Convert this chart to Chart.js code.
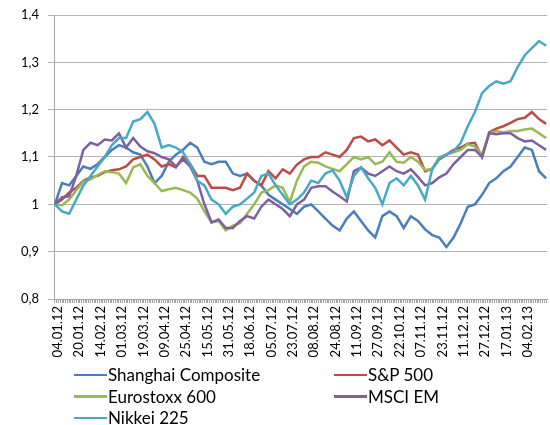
<!DOCTYPE html>
<html>
<head>
<meta charset="utf-8">
<script src="https://cdn.jsdelivr.net/npm/chart.js@4"></script>
<style>
body { margin: 0; background: #fff; font-family: Lato, sans-serif; }
#wrap { position: relative; width: 550px; height: 425px; }
#box { position: absolute; left: 0; top: 0; width: 550px; height: 368px; }
#legend { position: absolute; left: 74px; top: 364px; display: grid; grid-template-columns: 260px 200px; font-size: 17px; line-height: 21.5px; color: #000; }
.item { display: flex; align-items: center; }
.item span { display: inline-block; width: 33px; height: 2.5px; margin-right: 1px; }
</style>
</head>
<body>
<div id="wrap">
  <div id="box"><canvas id="indexChart"></canvas></div>
  <div id="legend"></div>
</div>
<script>
// tick labels, one every 12 trading days
let dates = [
    "04.01.12", "20.01.12", "14.02.12", "01.03.12", "19.03.12", "09.04.12",
    "25.04.12", "15.05.12", "31.05.12", "18.06.12", "05.07.12", "23.07.12",
    "08.08.12", "24.08.12", "11.09.12", "27.09.12", "22.10.12", "07.11.12",
    "23.11.12", "11.12.12", "27.12.12", "17.01.13", "04.02.13"
]
let lastDay = 276
let step = 4   // values every 4th trading day

let names = [`Shanghai Composite`, `S&P 500`, `Eurostoxx 600`, `MSCI EM`, `Nikkei 225`]
let colors = [`#4A7EBB`, `#BE4B48`, `#98B954`, `#7D60A0`, `#46AAC5`]

let shanghai = [
    1.00, 1.045, 1.04, 1.06, 1.08, 1.075, 1.085, 1.10, 1.115, 1.125,
    1.12, 1.11, 1.105, 1.08, 1.045, 1.06, 1.09, 1.105, 1.115, 1.13,
    1.12, 1.09, 1.085, 1.09, 1.09, 1.065, 1.06, 1.065, 1.05, 1.04,
    1.02, 1.01, 1.00, 0.99, 0.98, 0.995, 1.00, 0.985, 0.97, 0.955,
    0.945, 0.97, 0.985, 0.965, 0.945, 0.93, 0.975, 0.985, 0.975, 0.95,
    0.975, 0.965, 0.947, 0.935, 0.93, 0.91, 0.93, 0.96, 0.995, 1.00,
    1.02, 1.045, 1.055, 1.07, 1.08, 1.10, 1.12, 1.115, 1.07, 1.055
]
let sp500 = [
    1.00, 1.01, 1.025, 1.035, 1.05, 1.057, 1.06, 1.068, 1.072, 1.074,
    1.08, 1.095, 1.10, 1.105, 1.095, 1.08, 1.085, 1.078, 1.10, 1.085,
    1.06, 1.06, 1.035, 1.035, 1.035, 1.03, 1.035, 1.065, 1.05, 1.04,
    1.07, 1.055, 1.074, 1.065, 1.084, 1.095, 1.10, 1.10, 1.11, 1.105,
    1.10, 1.115, 1.14, 1.143, 1.133, 1.137, 1.125, 1.135, 1.12, 1.105,
    1.11, 1.105, 1.07, 1.075, 1.095, 1.105, 1.115, 1.12, 1.128, 1.13,
    1.10, 1.152, 1.16, 1.165, 1.172, 1.18, 1.183, 1.195, 1.18, 1.17
]
let eurostoxx = [
    1.00, 0.998, 1.01, 1.03, 1.048, 1.053, 1.062, 1.07, 1.068, 1.065,
    1.045, 1.078, 1.085, 1.06, 1.045, 1.028, 1.032, 1.035, 1.03, 1.025,
    1.012, 0.985, 0.962, 0.965, 0.945, 0.955, 0.96, 0.98, 1.00, 1.025,
    1.03, 1.04, 1.035, 1.005, 1.05, 1.08, 1.09, 1.088, 1.08, 1.075,
    1.07, 1.085, 1.10, 1.095, 1.10, 1.085, 1.09, 1.11, 1.09, 1.088,
    1.10, 1.09, 1.072, 1.075, 1.10, 1.105, 1.11, 1.115, 1.127, 1.122,
    1.105, 1.15, 1.155, 1.152, 1.155, 1.155, 1.158, 1.16, 1.15, 1.14
]
let msciEM = [
    1.00, 1.015, 1.017, 1.06, 1.115, 1.13, 1.125, 1.137, 1.135, 1.15,
    1.12, 1.14, 1.122, 1.112, 1.108, 1.10, 1.095, 1.08, 1.095, 1.08,
    1.05, 1.00, 0.962, 0.968, 0.95, 0.95, 0.965, 0.975, 0.97, 0.995,
    1.01, 1.00, 0.99, 0.975, 1.00, 1.01, 1.035, 1.038, 1.038, 1.027,
    1.017, 1.006, 1.07, 1.078, 1.065, 1.06, 1.07, 1.08, 1.07, 1.065,
    1.074, 1.058, 1.04, 1.045, 1.057, 1.065, 1.085, 1.10, 1.115, 1.115,
    1.10, 1.15, 1.148, 1.15, 1.15, 1.14, 1.133, 1.135, 1.125, 1.115
]
let nikkei = [
    1.00, 0.985, 0.98, 1.01, 1.04, 1.06, 1.08, 1.10, 1.125, 1.14,
    1.14, 1.175, 1.18, 1.195, 1.17, 1.12, 1.125, 1.12, 1.11, 1.085,
    1.05, 1.04, 1.01, 1.00, 0.98, 0.995, 1.00, 1.012, 1.025, 1.06,
    1.065, 1.04, 1.02, 1.00, 1.01, 1.025, 1.05, 1.045, 1.065, 1.072,
    1.05, 1.015, 1.06, 1.078, 1.055, 1.035, 1.00, 1.045, 1.055, 1.04,
    1.06, 1.04, 1.01, 1.074, 1.097, 1.105, 1.112, 1.13, 1.165, 1.195,
    1.235, 1.25, 1.26, 1.255, 1.26, 1.29, 1.315, 1.33, 1.345, 1.335
]

let series = [shanghai, sp500, eurostoxx, msciEM, nikkei]

function toPoints(values) {
    return values.map((v, k) => {
        return { x: k * step, y: v }
    })
}

function yLabel(v) {
    let r = Math.round(v * 10) / 10
    if (r === 1) return `1`
    return r.toFixed(1).replace(`.`, `,`)
}

function indexChart() {
    const ctx = document.getElementById(`indexChart`);

    new Chart(ctx, {
        type: `line`,
        data: {
            datasets: series.map((s, i) => {
                return {
                    label: names[i],
                    data: toPoints(s),
                    borderColor: colors[i],
                    backgroundColor: colors[i],
                    borderWidth: 2.5,
                    pointRadius: 0,
                    tension: 0,
                    order: series.length - i
                }
            })
        },
        options: {
            responsive: true,
            maintainAspectRatio: false,
            animation: false,
            layout: { padding: { top: 15, right: 3, left: 0, bottom: 0 } },
            plugins: {
                legend: { display: false },
                tooltip: { enabled: false }
            },
            scales: {
                x: {
                    type: `linear`,
                    min: -0.5,
                    max: lastDay + 0.5,
                    afterBuildTicks: (scale) => {
                        let t = []
                        for (let i = 0; i <= lastDay; i++) t.push({ value: i })
                        scale.ticks = t
                    },
                    afterFit: (scale) => {
                        scale.height = 69
                        scale.paddingLeft = 0
                        scale.paddingRight = 0
                    },
                    ticks: {
                        autoSkip: false,
                        minRotation: 90,
                        maxRotation: 90,
                        labelOffset: 3,
                        padding: 3,
                        color: `#000`,
                        font: { family: `Lato`, size: 13 },
                        callback: (v) => {
                            if (v % 12 !== 0) return ``
                            return dates[v / 12] || ``
                        }
                    },
                    grid: { drawOnChartArea: false, tickLength: 4, color: `#a6a6a6` },
                    border: { color: `#a6a6a6` }
                },
                y: {
                    min: 0.8,
                    max: 1.4,
                    afterFit: (scale) => {
                        scale.width = 54
                        scale.paddingTop = 0
                        scale.paddingBottom = 0
                    },
                    ticks: {
                        stepSize: 0.1,
                        padding: 9,
                        color: `#000`,
                        font: { family: `Lato`, size: 13 },
                        callback: yLabel
                    },
                    grid: { color: `#b3b3b3`, tickLength: 6 },
                    border: { color: `#a6a6a6` }
                }
            }
        }
    });
}

function buildLegend() {
    const box = document.getElementById(`legend`);
    names.forEach((n, i) => {
        let d = document.createElement(`div`)
        d.className = `item`
        d.innerHTML = `<span style="background:${colors[i]}"></span>`
        d.appendChild(document.createTextNode(n))
        box.appendChild(d)
    })
}

indexChart()
buildLegend()
</script>
</body>
</html>
